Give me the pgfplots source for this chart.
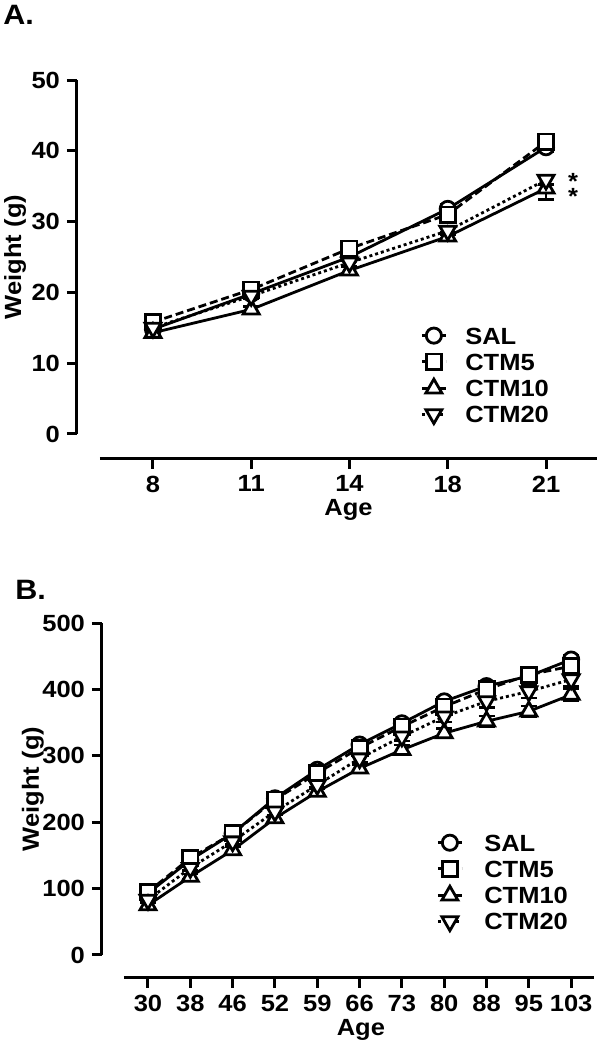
\documentclass[border=0pt]{standalone}
\usepackage{pgfplots}
\pgfplotsset{compat=1.18}
\usepackage{fontspec}
\setmainfont{Liberation Sans}[FakeStretch=1.09]
\newcommand\ff{\fontsize{11.7}{13}\selectfont\bfseries}
\pgfplotsset{
 prism/.style={
  scale only axis,
  axis x line*=bottom, axis y line*=left,
  axis line style={line width=1.5pt},
  tick style={line width=1.5pt, black},
  tick align=outside,
  major tick length=5pt,
  clip=false,
  tick label style={font=\ff},
  label style={font=\ff},
  /pgf/number format/assume math mode=true,
  legend cell align=left,
  legend style={draw=none, fill=none, font=\ff, inner sep=0pt, row sep=4.5pt, column sep=9pt,
    nodes={inner sep=0pt, text height=8.5pt, text depth=0pt}},
  legend image code/.code={\draw[mark repeat=2, mark phase=2] plot coordinates {(0pt,0pt) (6pt,0pt) (12pt,0pt)};},
 },
 ebar/.style={error bars/.cd, y dir=both, y explicit,
   error bar style={line width=1.3pt, solid},
   error mark options={line width=1.3pt, mark size=4pt, rotate=90, solid}},
 sSAL/.style={black, line width=1.4pt, solid, mark=*, mark size=3.8pt, mark options={solid, fill=white, line width=1.4pt}},
 sCTMa/.style={black, line width=1.4pt, dash pattern=on 4pt off 2pt, mark=square*, mark size=3.8pt, mark options={solid, fill=white, line width=1.4pt}},
 sCTMb/.style={black, line width=1.4pt, solid, mark=triangle*, mark size=4.6pt, mark options={solid, fill=white, line width=1.4pt}},
 sCTMc/.style={black, line width=1.4pt, dash pattern=on 1.5pt off 1.5pt, mark=triangle*, mark size=4.6pt, mark options={solid, fill=white, line width=1.4pt, rotate=180}},
}
\begin{document}
\begin{tikzpicture}
\useasboundingbox (0,0) rectangle (300pt,525pt);
\node[anchor=west, font=\fontsize{14}{16}\selectfont\bfseries, inner sep=0pt] at (1.5pt,517.5pt) {A.};
\node[anchor=west, font=\fontsize{14}{16}\selectfont\bfseries, inner sep=0pt] at (7.5pt,230pt) {B.};
% Panel A
\begin{axis}[prism,
  at={(50pt,308pt)}, anchor=south west,
  width=248.5pt, height=177pt,
  xmin=-0.539, xmax=4.519, ymin=0, ymax=50,
  axis x line shift=12.3pt, axis y line shift=11.5pt,
  xtick={0,1,2,3,4}, xticklabels={8,11,14,18,21},
  ytick={0,10,20,30,40,50},
  xlabel={Age}, ylabel={Weight (g)},
  xlabel style={at={(axis description cs:0.5,-0.215)}, anchor=center},
  ylabel style={at={(axis description cs:-0.171,0.5)}, anchor=center},
  legend style={at={(0.644,0.303)}, anchor=north west},
]
\addplot[sSAL, ebar] coordinates {(0,14.8)+-(0,0.4) (1,19.8)+-(0,0.4) (2,25.0)+-(0,0.5) (3,31.8)+-(0,0.6) (4,40.5)+-(0,0.6)};
\addlegendentry{SAL}
\addplot[sCTMa, ebar] coordinates {(0,15.8)+-(0,0.4) (1,20.4)+-(0,0.4) (2,26.2)+-(0,0.5) (3,31.0)+-(0,0.6) (4,41.3)+-(0,0.6)};
\addlegendentry{CTM5}
\addplot[sCTMb, ebar] coordinates {(0,14.3)+-(0,0.4) (1,17.6)+-(0,0.4) (2,23.1)+-(0,0.5) (3,27.9)+-(0,0.6) (4,34.7)+-(0,1.6)};
\addlegendentry{CTM10}
\addplot[sCTMc, ebar] coordinates {(0,15.0)+-(0,0.4) (1,19.5)+-(0,0.4) (2,24.2)+-(0,0.5) (3,28.7)+-(0,0.6) (4,35.9)+-(0,0.7)};
\addlegendentry{CTM20}
\node[font=\ff, anchor=base, inner sep=0pt, yshift=-6.5pt] at (axis cs:4.275,34.2) {\vbox{\offinterlineskip\hbox{*}\kern-0.5pt\hbox{*}}};
\end{axis}
% Panel B
\begin{axis}[prism,
  at={(62pt,47.5pt)}, anchor=south west,
  width=235pt, height=166pt,
  xmin=-0.567, xmax=10.54, ymin=0, ymax=500,
  axis x line shift=11.5pt, axis y line shift=11pt,
  xtick={0,...,10}, xticklabels={30,38,46,52,59,66,73,80,88,95,103},
  ytick={0,100,200,300,400,500},
  xlabel={Age}, ylabel={Weight (g)},
  xlabel style={at={(axis description cs:0.504,-0.225)}, anchor=center},
  ylabel style={at={(axis description cs:-0.194,0.5)}, anchor=center},
  legend style={at={(0.664,0.365)}, anchor=north west, column sep=10.5pt},
]
\addplot[sSAL, ebar] coordinates {(0,93)+-(0,4) (1,143)+-(0,4) (2,183)+-(0,4) (3,236)+-(0,5) (4,279)+-(0,5) (5,317)+-(0,5) (6,349)+-(0,6) (7,382)+-(0,6) (8,405)+-(0,6) (9,420)+-(0,6) (10,445)+-(0,7)};
\addlegendentry{SAL}
\addplot[sCTMa, ebar] coordinates {(0,95)+-(0,4) (1,146)+-(0,4) (2,183)+-(0,4) (3,234)+-(0,5) (4,274)+-(0,5) (5,312)+-(0,5) (6,344)+-(0,6) (7,374)+-(0,6) (8,400)+-(0,6) (9,422)+-(0,6) (10,435)+-(0,7)};
\addlegendentry{CTM5}
\addplot[sCTMb, ebar] coordinates {(0,75)+-(0,4) (1,118)+-(0,4) (2,158)+-(0,5) (3,206)+-(0,5) (4,246)+-(0,6) (5,281)+-(0,6) (6,309)+-(0,7) (7,334)+-(0,7) (8,352)+-(0,8) (9,367)+-(0,8) (10,392)+-(0,9)};
\addlegendentry{CTM10}
\addplot[sCTMc, ebar] coordinates {(0,83)+-(0,4) (1,131)+-(0,4) (2,171)+-(0,5) (3,216)+-(0,5) (4,256)+-(0,6) (5,296)+-(0,6) (6,329)+-(0,7) (7,359)+-(0,8) (8,382)+-(0,9) (9,397)+-(0,10) (10,415)+-(0,10)};
\addlegendentry{CTM20}
\end{axis}
\end{tikzpicture}
\end{document}
